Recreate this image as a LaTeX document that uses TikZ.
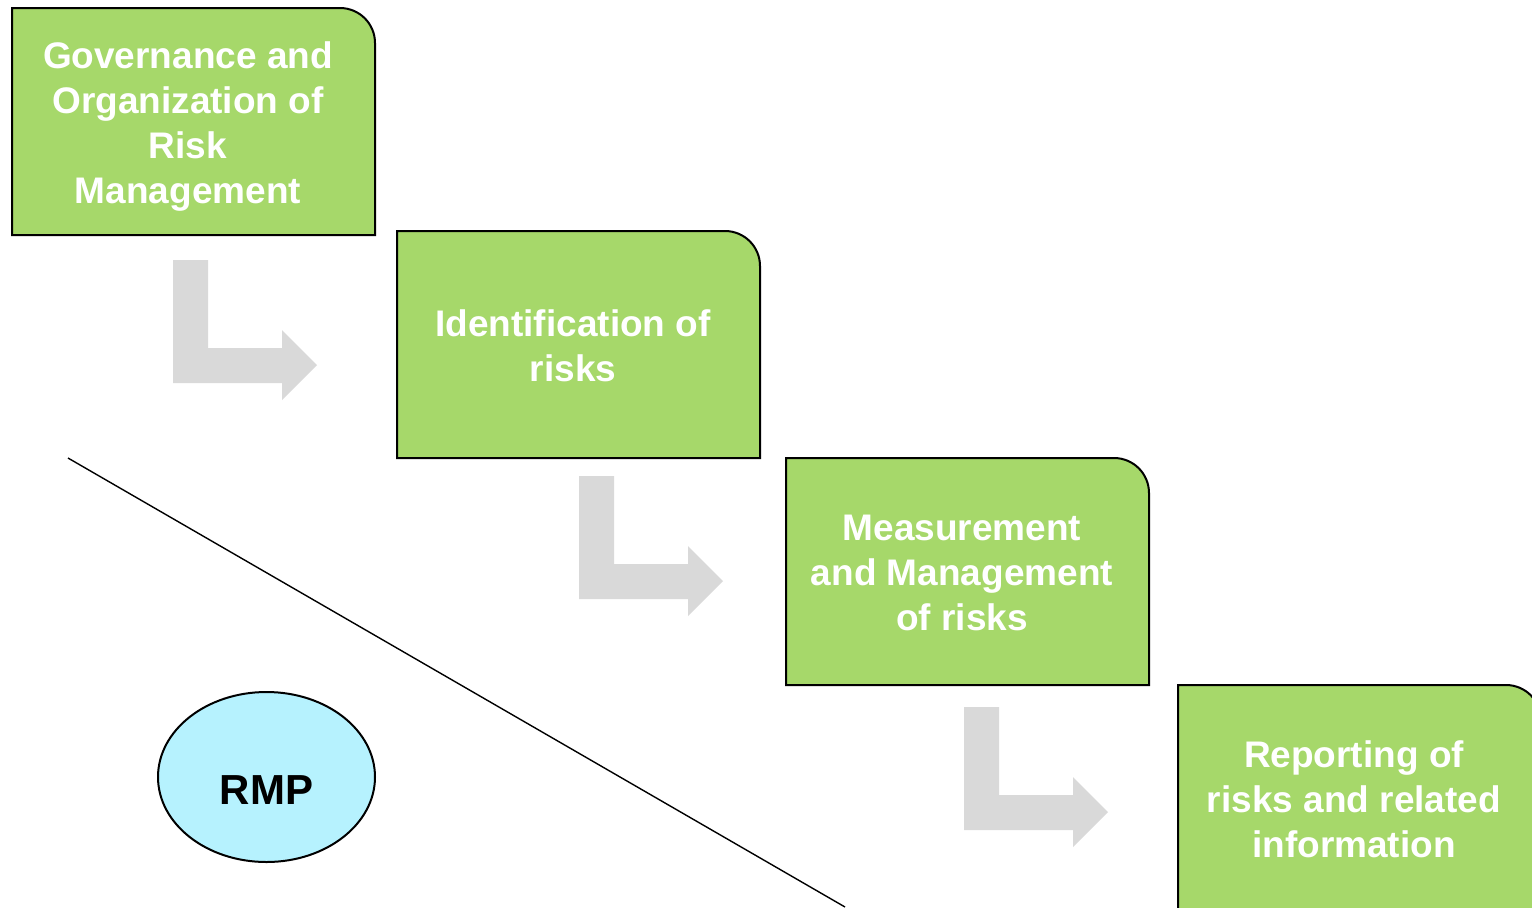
\documentclass[tikz,border=0pt]{standalone}
\usepackage{fontspec}
\setmainfont{Liberation Sans}
\usetikzlibrary{shapes.geometric}
\definecolor{boxgreen}{RGB}{166,216,106}
\definecolor{rmpblue}{RGB}{182,242,254}
\definecolor{arrowgray}{RGB}{217,217,217}
\begin{document}
\begin{tikzpicture}[x=0.5pt,y=-0.5pt,
  stagebox/.style={draw=black,line width=1pt,fill=boxgreen},
  stagetext/.style={text=white,align=center,inner sep=0pt,
    font=\bfseries\fontsize{18.5pt}{22.5pt}\selectfont},
  bentarrow/.style={fill=arrowgray,draw=none},
  divider/.style={draw=black,line width=0.7pt}]
\useasboundingbox (0,0) rectangle (1532,907);

% stage boxes: square corners except the rounded top-right one
\foreach \bx/\by in {12/8, 397/231, 786/458, 1178/685}{
  \path[stagebox] (\bx,\by+227) -- (\bx,\by) -- (\bx+328,\by)
    arc[start angle=90,end angle=0,radius=17.5pt] -- (\bx+363,\by+227) -- cycle;
}

% bent arrows between the stages
\foreach \ax/\ay in {0/0, 406/216, 791/447}{
  \path[bentarrow] (173+\ax,260+\ay) -- (208+\ax,260+\ay) -- (208+\ax,348+\ay)
    -- (282+\ax,348+\ay) -- (282+\ax,330+\ay) -- (317+\ax,365+\ay)
    -- (282+\ax,400+\ay) -- (282+\ax,383+\ay) -- (173+\ax,383+\ay) -- cycle;
}

% stage labels
\node[stagetext] (gov) at (188,126.5) {Governance and\\Organization of\\Risk\\Management};
\node[stagetext] (ident) at (573,345.5) {Identification of\\risks};
\node[stagetext] (meas) at (962,572.5) {Measurement\\and Management\\of risks};
\node[stagetext] (report) at (1354,799.5) {Reporting of\\risks and related\\information};

% diagonal divider
\coordinate (divA) at (68,458);
\coordinate (divB) at (845,907);
\draw[divider] (divA) -- (divB);

% RMP ellipse
\node[draw=black,line width=1pt,fill=rmpblue,ellipse,minimum width=108.5pt,
  minimum height=85pt,inner sep=0pt] (rmp) at (266.5,777) {};
\node[font=\bfseries\fontsize{21pt}{24pt}\selectfont,inner sep=0pt] (rmplabel) at (266.5,790) {RMP};
\end{tikzpicture}
\end{document}
